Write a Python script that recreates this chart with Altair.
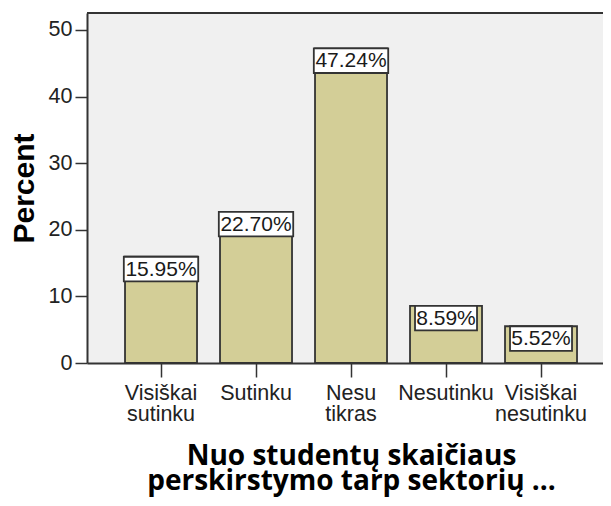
import altair as alt
import pandas as pd

categories = ["Visiškai sutinku", "Sutinku", "Nesu tikras", "Nesutinku", "Visiškai nesutinku"]
percent = [15.95, 22.70, 47.24, 8.59, 5.52]
y_ticks = [0, 10, 20, 30, 40, 50]
x_title = ["Nuo studentų skaičiaus", "perskirstymo tarp sektorių ..."]
y_title = "Percent"

df = pd.DataFrame({"cat": categories, "value": percent})

W, H = 516, 350
YMAX = 52.55
BAR = "#D3CE97"
EDGE = "#333333"
FONT = "Liberation Sans"

x_enc = alt.X(
    "cat:N",
    sort=categories,
    scale=alt.Scale(paddingInner=0.242, paddingOuter=0.3368, align=0.594),
    axis=alt.Axis(
        title=x_title,
        labelExpr="split(datum.label, ' ')",
        labelAngle=0,
        labelFont=FONT,
        labelFontSize=21.5,
        labelColor="#222222",
        labelLineHeight=21.5,
        labelPadding=5,
        labelBaseline="top",
        tickSize=14,
        tickColor=EDGE,
        tickWidth=1.5,
        domainColor=EDGE,
        domainWidth=2,
        titleFont="Open Sans",
        titleFontSize=28,
        titleFontWeight="bold",
        titleColor="#000000",
        titleLineHeight=25,
        titleBaseline="alphabetic",
        titleX=351 - 87,
        titleY=101,
        titleAlign="center",
    ),
)

y_scale = alt.Scale(domain=[0, YMAX], nice=False)

bars = alt.Chart(df).mark_bar(fill=BAR, stroke=EDGE, strokeWidth=1.8).encode(
    x=x_enc,
    y=alt.Y(
        "value:Q",
        scale=y_scale,
        axis=alt.Axis(
            title=y_title,
            values=y_ticks,
            grid=False,
            labelFont=FONT,
            labelFontSize=21.5,
            labelColor="#222222",
            labelPadding=3,
            tickSize=12,
            tickColor=EDGE,
            tickWidth=1.5,
            domainColor=EDGE,
            domainWidth=2,
            titleFont=FONT,
            titleFontSize=30,
            titleFontWeight="bold",
            titleColor="#000000",
            titleAngle=270,
            titleBaseline="alphabetic",
            titleAlign="center",
            titleX=-54,
            titleY=H / 2,
        ),
    ),
)

base = alt.Chart(df).transform_calculate(
    label="format(datum.value, '.2f') + '%'",
    box_bottom="datum.value - 3.7",
    box_w="length(datum.label) * 12.4",
)

boxes = base.mark_bar(fill="white", stroke=EDGE, strokeWidth=1.8).encode(
    x=alt.X("cat:N", sort=categories),
    y=alt.Y("value:Q", scale=y_scale),
    y2="box_bottom:Q",
    size=alt.Size("box_w:Q", scale=None),
)

texts = base.mark_text(
    font=FONT, fontSize=21, color="#1a1a1a", baseline="middle", align="center", dy=13
).encode(
    x=alt.X("cat:N", sort=categories),
    y=alt.Y("value:Q", scale=y_scale),
    text="label:N",
)

top_border = alt.Chart(df).mark_rule(color=EDGE, strokeWidth=2).encode(
    x=alt.value(0), x2=alt.value(W), y=alt.value(0)
)

chart = (
    alt.layer(bars, boxes, texts, top_border)
    .properties(
        width=W,
        height=H,
        autosize=alt.AutoSizeParams(type="none"),
        padding={"left": 79, "top": 5, "right": 0, "bottom": 134},
        background="white",
    )
    .configure_view(fill="#F0F0F0", stroke=None)
)

chart.save("out.html", embed_options={"renderer": "svg", "actions": False})
